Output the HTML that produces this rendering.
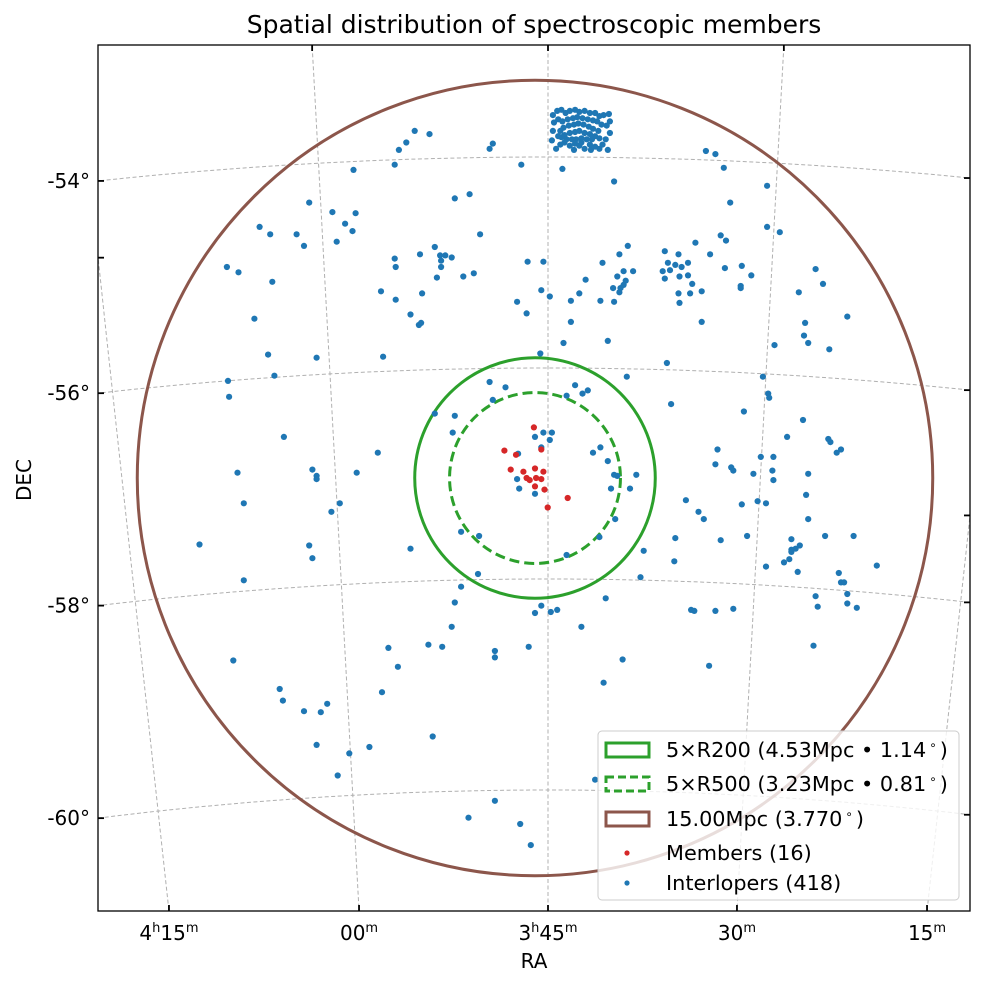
<!DOCTYPE html>
<html><head><meta charset="utf-8"><style>
html,body{margin:0;padding:0;background:#fff;overflow:hidden;width:984px;height:986px}
svg{display:block}
svg text{font-family:"DejaVu Sans","Liberation Sans",sans-serif;fill:#000}
</style></head><body>
<svg id="chart" width="984" height="986" xmlns="http://www.w3.org/2000/svg">
<rect width="984" height="986" fill="#fff"/>
<text x="534" y="33" font-size="25" text-anchor="middle">Spatial distribution of spectroscopic members</text>
<text x="534" y="968" font-size="20" text-anchor="middle">RA</text>
<text x="31" y="480" font-size="20" text-anchor="middle" transform="rotate(-90 31 480)">DEC</text>
<g id="grid"></g>
<g id="marks"></g>
<g id="axes"></g>
</svg>
<script>
// ---- data (tangent-plane offsets from cluster centre, in 0.01 deg; xi positive = east/left) ----
const interloperXi = [114,100,122,129,40,43,133,172,13,76,62,214,192,170,180,173,188,261,251,226,219,52,95,109,133,132,90,85,79,89,89,93,68,58,7,292,281,249,146,132,107,118,110,108,17,8,266,253,207,144,247,291,
-162,-171,-179,-26,-75,-220,-185,-220,-232,-176,-181,-152,-123,-136,-126,-133,-139,-145,-121,-128,-123,-137,-145,-149,-136,-147,-137,-158,-166,-180,-196,-205,-195,-195,-88,-80,-64,-84,-93,-78,-86,-84,-74,-81,-80,-48,-42,-34,-62,-75,-8,-6,-14,-34,-27,-69,-5,-125,-87,-158,-266,-273,-250,-296,-256,-255,-259,-279,-227,-216,
290,238,149,282,211,207,207,169,276,185,193,318,214,211,118,276,43,28,40,95,76,78,70,53,54,70,76,79,101,88,139,130,38,38,6,0,286,145,242,239,219,203,197,16,17,15,0,0,
-38,-30,-45,-50,-129,-198,-221,-222,-254,-239,-278,-280,-290,-286,-8,-16,-14,-6,-55,-62,-69,-75,-78,-96,-72,-90,-76,-61,-30,-103,-100,-67,-6,-15,-21,-44,-83,-65,-173,-171,-186,-188,-207,-214,-226,-225,-226,-259,-257,-259,-143,-155,-160,-196,-211,-219,-133,-176,-201,-132,-219,-243,-251,-247,-243,-243,-241,-236,-249,-275,-302,-324,-288,-290,-293,-296,-296,-305,-266,-268,-148,-151,-171,-188,-264,-165,
207,176,157,97,187,38,63,14,4,-57,
-17,-21,-25,-29,-33,-38,-42,-47,-52,-57,-61,-65,-70,-71,-68,-71,-67,-64,-69,-61,-57,-53,-47,-42,-37,-33,-28,-24,-20,-16,-17,-18,-22,-26,-31,-36,-40,-45,-50,-55,-59,-63,-60,-55,-51,-46,-41,-37,-32,-27,-24,-28,-33,-38,-42,-47,-52,-57,-61,-54,-49,-44,-39,-35,-30,-25,-22,-44,-52,-38];
const interloperEta = [329,326,318,311,317,312,297,292,297,265,269,261,252,251,241,234,224,238,231,231,220,231,219,212,208,200,211,211,209,206,200,190,191,194,205,200,195,186,177,169,175,155,145,147,167,156,151,117,114,115,97,92,
310,307,294,293,281,277,261,238,233,230,225,223,215,212,204,202,200,204,196,197,189,191,192,184,175,175,166,177,212,199,201,192,182,180,220,212,204,196,196,191,187,183,180,180,176,188,175,168,168,167,205,178,172,148,128,130,118,109,96,148,198,184,176,153,147,135,128,122,126,96,
77,39,24,5,8,2,-1,5,-24,-24,-32,-63,-64,-76,-67,-97,91,86,74,61,59,43,-51,-55,-91,-103,-118,-141,-158,-160,-161,-179,-164,-170,-160,-128,-173,-203,-200,-211,-221,-222,-214,23,-1,-10,39,-15,
88,78,80,83,70,63,80,76,55,39,37,34,27,24,43,43,36,29,24,29,16,3,2,3,-10,-10,-39,-56,-73,-69,-94,-114,-121,-127,-125,-141,-172,-194,27,13,10,7,4,20,20,7,-2,4,-16,-39,-21,-32,-39,-25,-22,-24,-57,-59,-55,-79,-84,-58,-64,-67,-68,-70,-77,-80,-89,-55,-55,-83,-90,-99,-99,-110,-119,-123,-112,-122,-125,-126,-126,-124,-159,-178,
-253,-261,-255,-245,-282,-306,-322,-328,-348,-286,
344,348,349,346,348,349,347,348,346,346,343,344,345,338,334,327,321,316,311,312,314,311,312,315,311,315,318,316,312,320,329,337,340,338,340,341,342,341,340,339,338,335,329,331,333,335,336,335,334,332,329,325,327,328,329,327,326,324,322,321,321,322,321,321,321,323,324,318,316,317];
const memberXi  = [1,29,18,-6,23,11,-8,-1,-6,-9,-31,-12,0,0,8,5];
const memberEta = [48,26,22,27,8,6,6,0,-1,-11,-19,-28,9,-8,0,-2];
const circleRadiiDeg = [1.14, 0.81, 3.77];
const decTicks = [-54,-56,-58,-60];
const raTicksMin = [255,240,225,210,195]; // RA in minutes of time: 4h15 .. 3h15
const raTickLabels = [["4","15"],["00",null],["3","45"],["30",null],["15",null]];

// ---- geometry ----
const NS="http://www.w3.org/2000/svg";
const L=98,R=970,T=45,B=911;
const CX=535, CY=478, PX_PER_CDEG=1.055;
function xPos(xi){return CX - xi*PX_PER_CDEG;}
function yPos(eta){return CY - eta*PX_PER_CDEG;}
const POLE_X=548, POLE_Y=4400;
function rad(dec){return 4243 + 105.5*(dec+54);}
function ang(raMin){return -(raMin-225)/15*3.1*Math.PI/180;}
function sky(raMin,dec){const r=rad(dec),a=ang(raMin);return [POLE_X+r*Math.sin(a), POLE_Y-r*Math.cos(a)];}
function mk(tag,attrs,parent){const e=document.createElementNS(NS,tag);for(const k in attrs)e.setAttribute(k,attrs[k]);parent.appendChild(e);return e;}

const grid=document.getElementById('grid'), marks=document.getElementById('marks'), axes=document.getElementById('axes');
const defs=mk('defs',{},document.getElementById('chart'));
const cp=mk('clipPath',{id:'clip'},defs); mk('rect',{x:L,y:T,width:R-L,height:B-T},cp);
grid.setAttribute('clip-path','url(#clip)'); marks.setAttribute('clip-path','url(#clip)');

decTicks.forEach(d=>{
  let pts=[];for(let m=150;m<=300;m+=2){pts.push(sky(m,d).map(v=>v.toFixed(1)).join(','));}
  const p=mk('polyline',{points:pts.join(' '),fill:'none',stroke:'#b0b0b0','stroke-width':1,'stroke-dasharray':'4,2.5'},grid);
  
  
});
raTicksMin.forEach(m=>{
  let pts=[];for(let d=-50;d>=-63;d-=0.5){pts.push(sky(m,d).map(v=>v.toFixed(1)).join(','));}
  const p=mk('polyline',{points:pts.join(' '),fill:'none',stroke:'#b0b0b0','stroke-width':1,'stroke-dasharray':'4,2.5'},grid);
  
  
});

const cStyles=[{stroke:'#2ca02c',dash:null,name:'r200-circle'},{stroke:'#2ca02c',dash:'10,5',name:'r500-circle'},{stroke:'#8c564b',dash:null,name:'15mpc-circle'}];
circleRadiiDeg.forEach((r,i)=>{
  const c=mk('circle',{cx:xPos(0),cy:yPos(0),r:r*100*PX_PER_CDEG,fill:'none',stroke:cStyles[i].stroke,'stroke-width':3},marks);
  if(cStyles[i].dash)c.setAttribute('stroke-dasharray',cStyles[i].dash);
  
  
});
for(let i=0;i<interloperXi.length;i++){
  const c=mk('circle',{cx:xPos(interloperXi[i]).toFixed(1),cy:yPos(interloperEta[i]).toFixed(1),r:3.1,fill:'#1f77b4'},marks);
  
  
}
for(let i=0;i<memberXi.length;i++){
  const c=mk('circle',{cx:xPos(memberXi[i]).toFixed(1),cy:yPos(memberEta[i]).toFixed(1),r:3.1,fill:'#d62728'},marks);
  
  
}

const fr=mk('rect',{x:L,y:T,width:R-L,height:B-T,fill:'none',stroke:'#000','stroke-width':1.3},axes);



function xAtDec(d,x){const r=rad(d);return POLE_Y-Math.sqrt(r*r-(x-POLE_X)**2);}
decTicks.forEach(d=>{
  const yl=xAtDec(d,L), yr=xAtDec(d,R);
  mk('line',{x1:L,y1:yl,x2:L+6,y2:yl,stroke:'#000','stroke-width':1.8},axes);
  mk('line',{x1:R,y1:yr,x2:R-6,y2:yr,stroke:'#000','stroke-width':1.8},axes);
  const t=mk('text',{x:L-8,y:yl+7,'font-size':20,'text-anchor':'end'},axes);
  t.textContent=d+'°';
  
  
});
raTicksMin.forEach((m,i)=>{
  const a=ang(m);
  const xb=POLE_X+(POLE_Y-B)*Math.tan(a), xt=POLE_X+(POLE_Y-T)*Math.tan(a);
  if(xb>=L&&xb<=R) mk('line',{x1:xb,y1:B,x2:xb,y2:B-6,stroke:'#000','stroke-width':1.8},axes);
  if(xt>=L&&xt<=R) mk('line',{x1:xt,y1:T,x2:xt,y2:T+6,stroke:'#000','stroke-width':1.8},axes);
  else {
    const xs = xt<L?L:R; const ys=POLE_Y-(xs-POLE_X)/Math.tan(a);
    if(ys>T&&ys<B) mk('line',{x1:xs,y1:ys,x2:xs+(xs===L?6:-6),y2:ys,stroke:'#000','stroke-width':1.8},axes);
  }
  const lab=raTickLabels[i];
  const t=mk('text',{x:xb,y:B+29,'font-size':20,'text-anchor':'middle'},axes);
  
  
  t.appendChild(document.createTextNode(lab[0]));
  if(lab[1]!==null){
    const s1=mk('tspan',{dy:-8,'font-size':13},t); s1.textContent='h';
    const s2=mk('tspan',{dy:8},t); s2.textContent=lab[1];
  }
  const s3=mk('tspan',{dy:-8,'font-size':13},t); s3.textContent='m';
});

const lg=mk('g',{},axes);


mk('rect',{x:598,y:731,width:361,height:169,rx:4,fill:'#fff','fill-opacity':0.8,stroke:'#cccccc','stroke-width':1},lg);
const entries=[
 {t:'5×R200 (4.53Mpc • 1.14$)',type:'rect',c:'#2ca02c',dash:null,y:750,name:'legend-r200'},
 {t:'5×R500 (3.23Mpc • 0.81$)',type:'rect',c:'#2ca02c',dash:'8,4',y:784,name:'legend-r500'},
 {t:'15.00Mpc (3.770$)',type:'rect',c:'#8c564b',dash:null,y:819,name:'legend-15mpc'},
 {t:'Members (16)',type:'dot',c:'#d62728',y:853,name:'legend-members'},
 {t:'Interlopers (418)',type:'dot',c:'#1f77b4',y:883,name:'legend-interlopers'}];
entries.forEach(e=>{
  const g=mk('g',{},lg);
  
  
  if(e.type==='rect'){
    const r=mk('rect',{x:606,y:e.y-7,width:43,height:14,fill:'none',stroke:e.c,'stroke-width':3},g);
    if(e.dash)r.setAttribute('stroke-dasharray',e.dash);
  } else mk('circle',{cx:627,cy:e.y,r:2.6,fill:e.c},g);
  const t=mk('text',{x:666,y:e.y+7,'font-size':20.8},g);
  const parts=e.t.split('$');
  t.appendChild(document.createTextNode(parts[0]));
  if(parts.length>1){const s=mk('tspan',{dy:-8,'font-size':12,dx:3},t);s.textContent='∘';const s2=mk('tspan',{dy:8,dx:3},t);s2.textContent=')';}
});
</script>
</body></html>
